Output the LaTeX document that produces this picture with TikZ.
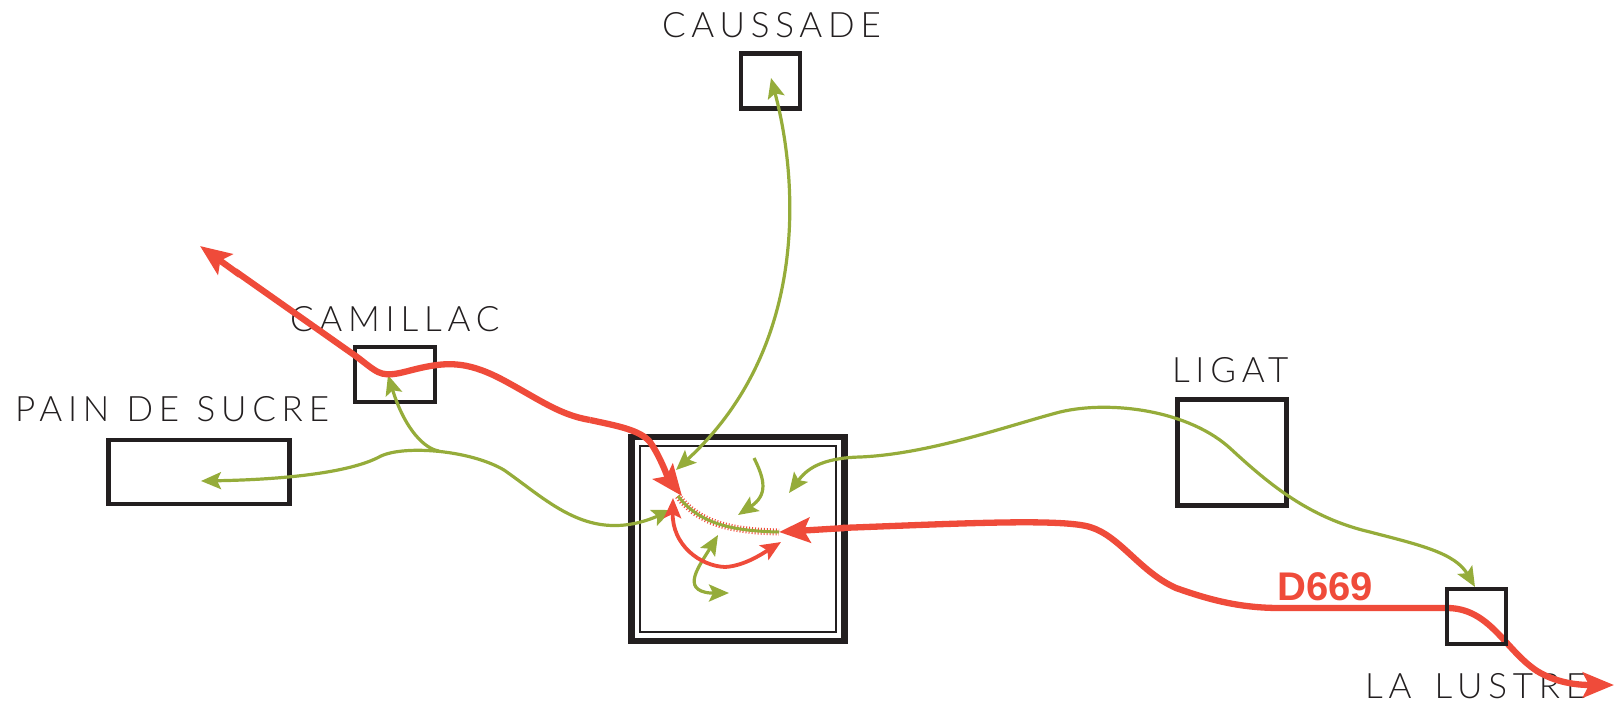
\documentclass[tikz,border=0pt]{standalone}
\usepackage{fontspec}
\setmainfont{Lato}[UprightFont=* Light,LetterSpace=16.5]
\newfontfamily\roadfont{Liberation Sans}[BoldFont=* Bold]
\usetikzlibrary{arrows.meta}
\definecolor{roadred}{HTML}{EF4B3A}
\definecolor{pathgreen}{HTML}{95AC3A}
\definecolor{boxblack}{HTML}{231F20}
\tikzset{
  place/.style={draw=boxblack,line width=4.7pt,fill=none},
  placelabel/.style={anchor=base west,inner sep=0pt,outer sep=0pt,text=boxblack,font=\fontsize{35}{35}\selectfont},
  redbig/.style={draw=roadred,line width=6.3pt,line join=round},
  redthin/.style={draw=roadred,line width=3.8pt},
  greenline/.style={draw=pathgreen,line width=3.2pt},
  bighead/.tip={Stealth[length=31pt,width=25pt,inset=6pt]},
  redhead/.tip={Stealth[length=20pt,width=17pt,inset=4pt]},
  greenhead/.tip={Stealth[length=20pt,width=17pt,inset=4pt]},
}
\begin{document}
\begin{tikzpicture}[x=1pt,y=-1pt]
\useasboundingbox (0,0) rectangle (1614,705);
% labels
\node[placelabel] (lcaussade) at (662,37) {CAUSSADE};
\node[placelabel] (lcamillac) at (290,331) {CAMILLAC};
\node[placelabel] (lpain) at (15,421) {PAIN\hspace{2pt} DE\hspace{2pt} SUCRE};
\node[placelabel] (lligat) at (1172,382) {LIGAT};
\node[placelabel] (llustre) at (1365,698) {LA\hspace{8pt} LUSTRE};
% places
\node[place,minimum width=59pt,minimum height=55pt,inner sep=0pt] (caussade) at (770.5,81) {};
\node[place,minimum width=80pt,minimum height=55pt,inner sep=0pt] (camillac) at (395,374.5) {};
\node[place,minimum width=181pt,minimum height=64pt,inner sep=0pt] (pain) at (199,472) {};
\node[place,minimum width=109pt,minimum height=106pt,inner sep=0pt] (ligat) at (1232,452.5) {};
\node[draw=boxblack,line width=6.5pt,minimum width=213pt,minimum height=204pt,inner sep=0pt] (outer) at (738,539) {};
\node[draw=boxblack,line width=2.5pt,minimum width=196pt,minimum height=186pt,inner sep=0pt] (inner) at (738,539) {};
% named ends
\coordinate (nw) at (200,246);
\coordinate (hub) at (682,496);
\coordinate (hubr) at (779,532);
\coordinate (se) at (1614,685);
\coordinate (ctip) at (771,78);
\coordinate (ctipin) at (676,470);
\coordinate (lligin) at (789,493);
\coordinate (llus) at (1475,587);
\coordinate (ptip) at (201,481);
\coordinate (camtip) at (388,375);
\coordinate (camfork) at (439,451);
\coordinate (lefttip) at (672,510);
\coordinate (gs) at (754,458);
\coordinate (ge) at (738,515);
\coordinate (g1) at (718,535);
\coordinate (g2) at (729,593);
\coordinate (r1) at (673,498);
\coordinate (r2) at (781,542);
\coordinate (hs) at (678,496);
% green paths
\draw[greenline,{greenhead}-{greenhead}] (ctip) .. controls (797,175) and (812,345) .. (ctipin);
\draw[greenline,{greenhead}-{greenhead}] (lligin) .. controls (806,470) and (820,458) .. (860,457)
  .. controls (930,454) and (1010,425) .. (1060,412)
  .. controls (1110,400) and (1190,410) .. (1232,450)
  .. controls (1270,485) and (1310,518) .. (1370,532)
  .. controls (1420,545) and (1455,553) .. (llus);
\draw[greenline,{greenhead}-{greenhead}] (ptip) .. controls (260,480) and (345,476) .. (381,456)
  .. controls (405,445) and (470,450) .. (504,470)
  .. controls (550,502) and (590,545) .. (lefttip);
\draw[greenline,-{greenhead}] (camfork) .. controls (425,449) and (405,430) .. (camtip);
\draw[greenline,-{greenhead}] (gs) .. controls (765,480) and (768,495) .. (ge);
\draw[greenline,{greenhead}-{greenhead}] (g1) .. controls (700,565) and (680,590) .. (710,593) -- (g2);
% red
\draw[redbig,-{bighead}] (590,420) .. controls (618,426) and (640,430) .. (650,442) .. controls (660,456) and (668,478) .. (hub);
\draw[redbig] (590,420) .. controls (560,415) and (540,400) .. (505,381) .. controls (470,362) and (450,362) .. (425,367) .. controls (405,371) and (390,378) .. (378,372) .. controls (370,368) and (362,360) .. (350,352) -- (235,271);
\draw[redbig,-{bighead}] (240,275) -- (nw);
\draw[redbig,-{bighead}] (840,528) .. controls (950,524) and (1060,518) .. (1090,527)
  .. controls (1120,536) and (1140,572) .. (1176,588) .. controls (1210,600) and (1240,608) .. (1280,608) -- (1447,608)
  .. controls (1490,608) and (1505,650) .. (1537,671) .. controls (1555,682) and (1575,685) .. (se);
\draw[redbig,-{bighead}] (845,528) -- (hubr);
\draw[redthin,{redhead}-{redhead}] (r1) .. controls (672,545) and (700,566) .. (725,567) .. controls (745,566) and (765,552) .. (r2);
% hatched road
\draw[draw=roadred,line width=7pt,dash pattern=on 1pt off 2pt] (hs) .. controls (700,525) and (735,531) .. (hubr);
\draw[draw=pathgreen,line width=3pt] (hs) .. controls (700,525) and (735,531) .. (hubr);
% box over road
\node[place,minimum width=59pt,minimum height=55pt,inner sep=0pt] (lustre) at (1476.5,616.5) {};
\node[anchor=base west,inner sep=0pt,text=roadred,font=\roadfont\bfseries\fontsize{40}{40}\selectfont] (road) at (1277,600) {D669};
\end{tikzpicture}
\end{document}
